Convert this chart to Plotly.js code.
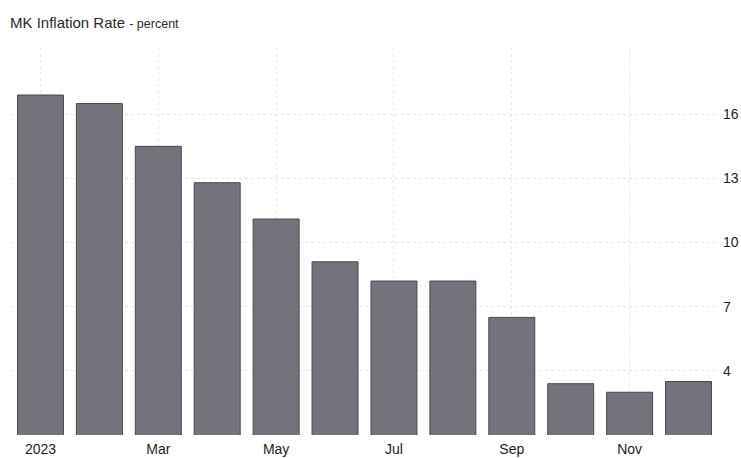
<!DOCTYPE html>
<html>
<head>
<meta charset="utf-8">
<script src="https://cdn.plot.ly/plotly-3.0.1.min.js"></script>
<style>html,body{margin:0;padding:0;background:#fff;}#chart{width:741px;height:458px;}</style>
</head>
<body>
<div id="chart"></div>
<script>
const months = ["Jan","Feb","Mar","Apr","May","Jun","Jul","Aug","Sep","Oct","Nov","Dec"];
const inflation = [16.9, 16.5, 14.5, 12.8, 11.1, 9.1, 8.2, 8.2, 6.5, 3.4, 3.0, 3.5];
const xTickVals = ["Jan","Mar","May","Jul","Sep","Nov"];
const xTickText = ["2023","Mar","May","Jul","Sep","Nov"];
const yTickVals = [4, 7, 10, 13, 16];

const trace = {
  type: "bar",
  x: months,
  y: inflation,
  marker: { color: "#74737b", line: { color: "#48474f", width: 1 } },
  hoverinfo: "x+y"
};

const layout = {
  width: 741,
  height: 458,
  margin: { l: 11, r: 23, t: 48, b: 23 },
  paper_bgcolor: "#ffffff",
  plot_bgcolor: "#ffffff",
  font: { family: "Liberation Sans, Arial, sans-serif", size: 14, color: "#1e1e1e" },
  bargap: 0.22,
  showlegend: false,
  title: {
    text: "MK Inflation Rate <span style='font-size:12.5px'>- percent</span>",
    x: 10 / 741, xref: "container", xanchor: "left",
    y: 1 - 23 / 458, yref: "container", yanchor: "middle",
    font: { family: "Liberation Sans, Arial, sans-serif", size: 15, color: "#2a2a2a" }
  },
  xaxis: {
    type: "category",
    tickvals: xTickVals,
    ticktext: xTickText,
    showgrid: true,
    gridcolor: "#e8e8e8",
    griddash: "dot",
    gridwidth: 1,
    showline: false,
    zeroline: false,
    ticks: "",
    ticklabelstandoff: 4,
    tickfont: { size: 14, color: "#1e1e1e" }
  },
  yaxis: {
    side: "right",
    range: [1, 19.1],
    tickvals: yTickVals,
    showgrid: true,
    gridcolor: "#e4e4e4",
    griddash: "dot",
    gridwidth: 1,
    showline: false,
    zeroline: false,
    ticks: "",
    ticklabelstandoff: 4,
    tickfont: { size: 14, color: "#1e1e1e" }
  }
};

Plotly.newPlot("chart", [trace], layout, { displayModeBar: false, staticPlot: true });
</script>
</body>
</html>
